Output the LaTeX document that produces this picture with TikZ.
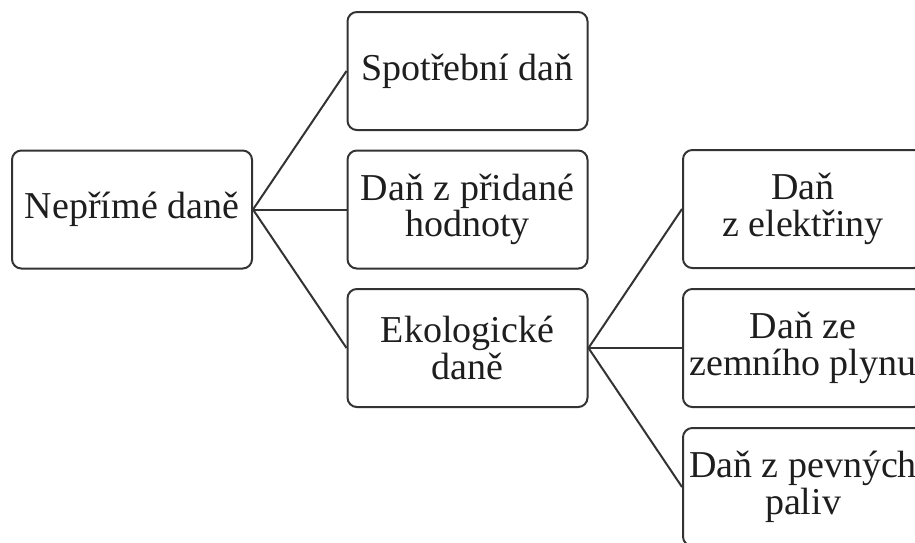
\documentclass[tikz,border=0pt]{standalone}
\usepackage{fontspec}
\setmainfont{Liberation Serif}
\definecolor{linegray}{HTML}{333333}
\definecolor{textgray}{HTML}{1E1E1E}
\begin{document}
\begin{tikzpicture}[x=0.75pt,y=-0.75pt,
  box/.style={draw=linegray, line width=1.5pt, rounded corners=7pt,
    minimum width=180pt, minimum height=88.5pt, align=center, inner sep=0pt,
    font=\fontsize{28.5}{27.5}\selectfont, text=textgray},
  conn/.style={draw=linegray, line width=1.5pt}]
\useasboundingbox (0,0) rectangle (915,543);
\clip (0,0) rectangle (915,543);
\node[box] (root) at (132,209.5) {Nepřímé daně};
\node[box] (spot) at (467.5,71) {Spotřební daň};
\node[box] (dph) at (467.5,209.5) {Daň z přidané\\hodnoty};
\node[box] (eko) at (467.5,348) {Ekologické\\daně};
\node[box] (ele) at (803,209) {Daň\\z elektřiny};
\node[box] (plyn) at (803,348) {Daň ze\\zemního plynu};
\node[box] (pev) at (803,487) {Daň z pevných\\paliv};
\draw[conn] (root.east) -- (spot.west);
\draw[conn] (root.east) -- (dph.west);
\draw[conn] (root.east) -- (eko.west);
\draw[conn] (eko.east) -- (ele.west);
\draw[conn] (eko.east) -- (plyn.west);
\draw[conn] (eko.east) -- (pev.west);
\end{tikzpicture}
\end{document}
